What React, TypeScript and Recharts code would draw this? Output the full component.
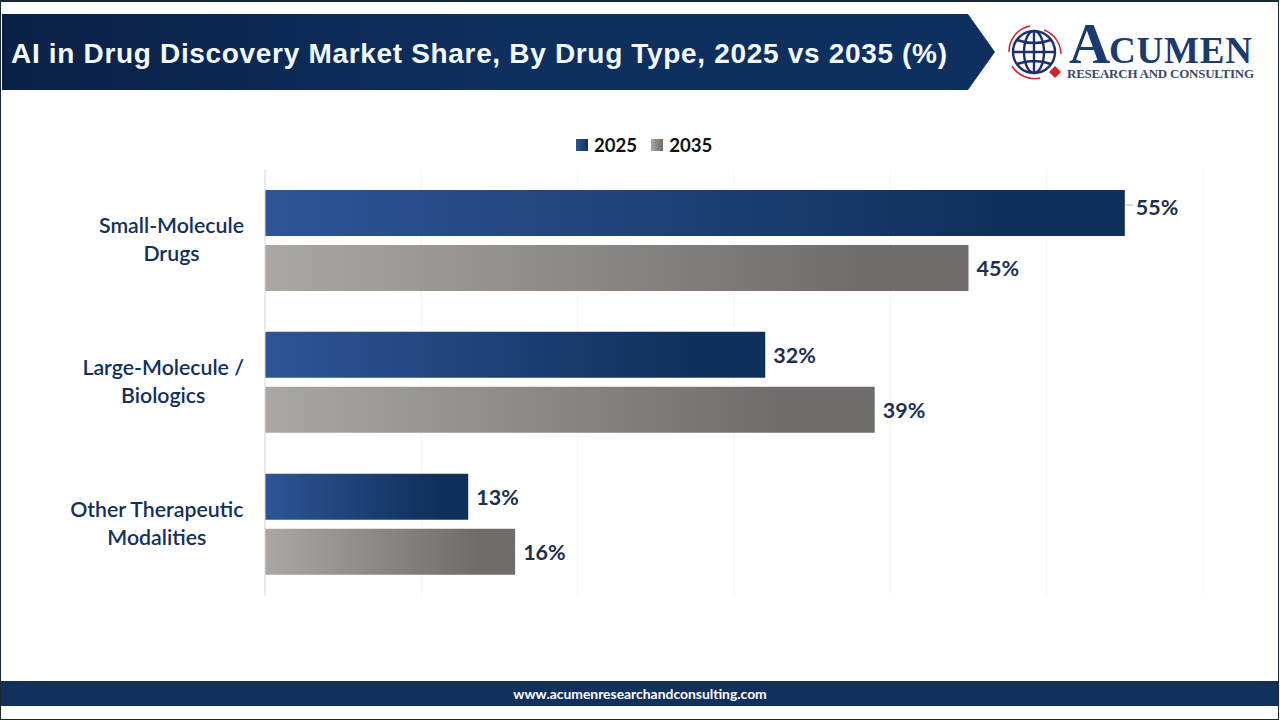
import { BarChart, Bar, XAxis, YAxis, CartesianGrid, Legend, LabelList } from "recharts";

const categories = ["Small-Molecule Drugs", "Large-Molecule / Biologics", "Other Therapeutic Modalities"];
const categoryLines = [
  ["Small-Molecule", "Drugs"],
  ["Large-Molecule /", "Biologics"],
  ["Other Therapeutic", "Modalities"],
];
const values2025 = [55, 32, 13];
const values2035 = [45, 39, 16];
const xTicks = [0, 10, 20, 30, 40, 50, 60];

const data = categories.map((name, i) => ({
  name,
  y2025: values2025[i],
  y2035: values2035[i],
}));

const LABEL_FONT = "Lato, sans-serif";
const NAVY = "#12305c";

// the two-line labels are centred on each other, but the block sits flush right
function textWidth(text: string) {
  const ctx = document.createElement("canvas").getContext("2d")!;
  ctx.font = `600 21.3px Lato`;
  return ctx.measureText(text).width;
}

function CategoryTick({ y, payload }: any) {
  const lines = categoryLines[categories.indexOf(payload.value)];
  const half = Math.max(...lines.map(textWidth)) / 2;
  return (
    <text
      textAnchor="middle"
      fontFamily={LABEL_FONT}
      fontWeight={600}
      fontSize={21.3}
      fill={NAVY}
    >
      {lines.map((line: string, i: number) => (
        <tspan key={line} x={244 - half} y={y - 8 + i * 28}>
          {line}
        </tspan>
      ))}
    </text>
  );
}

function ValueLabel({ x, y, width, height, value }: any) {
  const end = x + width;
  const long = value > 50;
  const mid = y + height / 2 - (long ? 6 : 0);
  return (
    <g>
      {long && <line x1={end} x2={end + 8} y1={mid - 2} y2={mid - 2} stroke="#a6b0b5" />}
      <text
        x={end + (long ? 11 : 8)}
        y={mid + 8}
        fontFamily={LABEL_FONT}
        fontWeight={700}
        fontSize={21.5}
        fill="#1b2f50"
      >
        {value}%
      </text>
    </g>
  );
}

function ChartLegend({ payload }: any) {
  return (
    <div style={{ display: "flex", alignItems: "center", fontFamily: LABEL_FONT, fontWeight: 700, fontSize: 18.6, color: "#111" }}>
      {payload.map((p: any, i: number) => (
        <span key={p.value} style={{ display: "flex", alignItems: "center", marginLeft: i ? 14 : 0 }}>
          <span
            style={{
              width: 12,
              height: 12,
              marginRight: 6,
              background: i ? "linear-gradient(90deg,#aba7a4,#6f6b6a)" : "linear-gradient(90deg,#2d5596,#10305c)",
            }}
          />
          {p.value}
        </span>
      ))}
    </div>
  );
}

function Header() {
  return (
    <svg width={1280} height={100} style={{ position: "absolute", left: 0, top: 0 }}>
      <defs>
        <linearGradient id="headerFill" x1="0" y1="0" x2="1" y2="0">
          <stop offset="0" stopColor="#0a2047" />
          <stop offset="0.5" stopColor="#0f2f5f" />
          <stop offset="1" stopColor="#0f2f60" />
        </linearGradient>
      </defs>
      <polygon points="2,14 968,14 995,52 968,90 2,90" fill="url(#headerFill)" />
      <text x={11} y={63} fontFamily="'Liberation Sans', sans-serif" fontWeight={700} fontSize={28} fill="#f2f9ff" textLength={936}>
        AI in Drug Discovery Market Share, By Drug Type, 2025 vs 2035 (%)
      </text>
      <g fill="none" stroke="#1d2f6f" strokeWidth={2.4}>
        <circle cx={1034} cy={52} r={21} />
        <ellipse cx={1034} cy={52} rx={10} ry={21} />
        <path d="M1013 52H1055M1017 40Q1034 46 1051 40M1017 64Q1034 58 1051 64M1034 31V73" />
      </g>
      <g fill="none" stroke="#d2232a" strokeWidth={1.5}>
        <path d="M1009 52A26 26 0 0 1 1030 26M1044 30A26 26 0 0 1 1061 54M1012 66A26 26 0 0 0 1040 78" />
      </g>
      <polygon points="1055,66 1061,72 1055,78 1049,72" fill="#d2232a" />
      <text x={1069} y={63} fontFamily="'Liberation Serif', serif" fontWeight={700} fontSize={57} fill="#1b3a70">
        A
      </text>
      <text x={1109} y={63} fontFamily="'Liberation Serif', serif" fontWeight={700} fontSize={37} fill="#1b3a70" textLength={143}>
        CUMEN
      </text>
      <text x={1067} y={78} fontFamily="'Liberation Serif', serif" fontWeight={700} fontSize={13} fill="#3a4a68" textLength={187}>
        RESEARCH AND CONSULTING
      </text>
    </svg>
  );
}

export default function App() {
  return (
    <div style={{ position: "absolute", left: 0, top: 0, width: 1280, height: 720, background: "#fff", overflow: "hidden" }}>
      <BarChart
        width={1280}
        height={720}
        layout="vertical"
        data={data}
        barSize={46}
        barGap={9}
        barCategoryGap={0}
        margin={{ top: 148, right: 77, bottom: 124.5, left: 0 }}
      >
        <defs>
          <linearGradient id="blueBar" x1="0" y1="0" x2="1" y2="0">
            <stop offset="0" stopColor="#2d5596" />
            <stop offset="0.85" stopColor="#10305c" />
            <stop offset="1" stopColor="#10305c" />
          </linearGradient>
          <linearGradient id="greyBar" x1="0" y1="0" x2="1" y2="0">
            <stop offset="0" stopColor="#aba7a4" />
            <stop offset="0.85" stopColor="#706c6b" />
            <stop offset="1" stopColor="#706c6b" />
          </linearGradient>
        </defs>
        <CartesianGrid horizontal={false} stroke="#f5f5f5" />
        <XAxis type="number" hide domain={[0, 60]} ticks={xTicks} />
        <YAxis
          type="category"
          dataKey="name"
          width={265}
          axisLine={{ stroke: "#d9d9d9" }}
          tickLine={false}
          tick={<CategoryTick />}
        />
        <Legend
          verticalAlign="top"
          content={<ChartLegend />}
          wrapperStyle={{ position: "absolute", left: 576, top: 134, width: "auto" }}
        />
        <Bar dataKey="y2025" name="2025" fill="url(#blueBar)" isAnimationActive={false}>
          <LabelList dataKey="y2025" content={<ValueLabel />} />
        </Bar>
        <Bar dataKey="y2035" name="2035" fill="url(#greyBar)" isAnimationActive={false}>
          <LabelList dataKey="y2035" content={<ValueLabel />} />
        </Bar>
      </BarChart>
      <Header />
      <div
        style={{
          position: "absolute",
          left: 1,
          top: 681,
          width: 1278,
          height: 25,
          background: NAVY,
          color: "#fff",
          fontFamily: LABEL_FONT,
          fontWeight: 700,
          fontSize: 13.9,
          lineHeight: "25px",
          textAlign: "center",
        }}
      >
        www.acumenresearchandconsulting.com
      </div>
      <div style={{ position: "absolute", left: 0, top: 0, width: 1277, height: 717, borderTop: "2px solid #1a2a33", borderLeft: "1px solid #1a2a33", borderRight: "1px solid #1a2a33", borderBottom: "1px solid #1a2a33", pointerEvents: "none" }} />
    </div>
  );
}
